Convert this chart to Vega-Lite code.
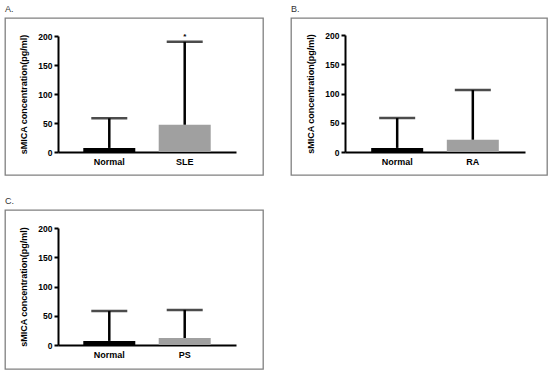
{
  "$schema": "https://vega.github.io/schema/vega-lite/v6.json",
  "padding": {"left": 4, "top": 4, "right": 4, "bottom": 4},
  "background": "white",
  "config": {
    "view": {"stroke": "#808080", "strokeWidth": 1.3},
    "font": "Liberation Sans",
    "title": {"fontSize": 9, "fontWeight": "normal", "color": "#333", "anchor": "start", "offset": 4, "font": "Liberation Sans"},
    "axis": {"grid": false, "domainColor": "#000", "domainWidth": 2, "tickColor": "#000", "tickWidth": 2, "labelColor": "#000", "labelFont": "Liberation Sans", "labelFontWeight": "bold", "labelOverlap": false, "titleFont": "Liberation Sans", "titleFontWeight": "bold", "titleColor": "#000"},
    "axisY": {"tickCount": 5, "labelOverlap": false, "tickSize": 4, "labelFontSize": 8.5, "labelPadding": 2, "titleFontSize": 9, "titlePadding": 9}
  },
  "vconcat": [
    {
      "hconcat": [
        {
          "title": "A.",
          "width": 258, "height": 157,
          "data": {"values": [{"group": "Normal", "mean": 7, "upper": 58, "sig": ""}, {"group": "SLE", "mean": 47, "upper": 190, "sig": "*"}]},
          "encoding": {"x": {"field": "group", "type": "nominal", "sort": null, "scale": {"range": [53, 231], "paddingInner": 0, "paddingOuter": 0.18}, "axis": {"title": null, "offset": -23, "ticks": false, "labelAngle": 0, "labelFontSize": 9, "labelPadding": 5}}},
          "layer": [
            {"mark": {"type": "bar", "width": 52}, "encoding": {"y": {"field": "mean", "type": "quantitative", "scale": {"domain": [0, 200], "range": [134, 18], "nice": false}, "axis": {"title": "sMICA concentration(pg/ml)", "offset": -53, "values": [0, 50, 100, 150, 200]}}, "color": {"condition": {"test": "datum.group === 'Normal'", "value": "#000000"}, "value": "#a0a0a0"}}},
            {"mark": {"type": "rule", "strokeWidth": 2.5, "color": "#000"}, "encoding": {"y": {"field": "mean", "type": "quantitative", "axis": {"title": "sMICA concentration(pg/ml)", "offset": -53, "values": [0, 50, 100, 150, 200]}}, "y2": {"field": "upper"}}},
            {"mark": {"type": "tick", "size": 36, "thickness": 2.5, "color": "#000"}, "encoding": {"y": {"field": "upper", "type": "quantitative", "axis": {"title": "sMICA concentration(pg/ml)", "offset": -53, "values": [0, 50, 100, 150, 200]}}}},
            {"mark": {"type": "text", "fontSize": 8, "fontWeight": "bold", "baseline": "alphabetic", "dy": -3, "color": "#000"}, "encoding": {"y": {"field": "upper", "type": "quantitative", "axis": {"title": "sMICA concentration(pg/ml)", "offset": -53, "values": [0, 50, 100, 150, 200]}}, "text": {"field": "sig"}}}
          ]
        },
        {
          "title": "B.",
          "width": 256, "height": 157,
          "data": {"values": [{"group": "Normal", "mean": 7, "upper": 58}, {"group": "RA", "mean": 21, "upper": 106}]},
          "encoding": {"x": {"field": "group", "type": "nominal", "sort": null, "scale": {"range": [54, 234], "paddingInner": 0, "paddingOuter": 0.19}, "axis": {"title": null, "offset": -23, "ticks": false, "labelAngle": 0, "labelFontSize": 9, "labelPadding": 5}}},
          "layer": [
            {"mark": {"type": "bar", "width": 52}, "encoding": {"y": {"field": "mean", "type": "quantitative", "scale": {"domain": [0, 200], "range": [134, 17], "nice": false}, "axis": {"title": "sMICA concentration(pg/ml)", "offset": -54, "values": [0, 50, 100, 150, 200]}}, "color": {"condition": {"test": "datum.group === 'Normal'", "value": "#000000"}, "value": "#a0a0a0"}}},
            {"mark": {"type": "rule", "strokeWidth": 2.5, "color": "#000"}, "encoding": {"y": {"field": "mean", "type": "quantitative", "axis": {"title": "sMICA concentration(pg/ml)", "offset": -54, "values": [0, 50, 100, 150, 200]}}, "y2": {"field": "upper"}}},
            {"mark": {"type": "tick", "size": 36, "thickness": 2.5, "color": "#000"}, "encoding": {"y": {"field": "upper", "type": "quantitative", "axis": {"title": "sMICA concentration(pg/ml)", "offset": -54, "values": [0, 50, 100, 150, 200]}}}}
          ]
        }
      ],
      "spacing": 26
    },
    {
      "title": "C.",
      "width": 258, "height": 159,
      "data": {"values": [{"group": "Normal", "mean": 7, "upper": 58}, {"group": "PS", "mean": 12, "upper": 60}]},
      "encoding": {"x": {"field": "group", "type": "nominal", "sort": null, "scale": {"range": [53, 231], "paddingInner": 0, "paddingOuter": 0.18}, "axis": {"title": null, "offset": -24, "ticks": false, "labelAngle": 0, "labelFontSize": 9, "labelPadding": 5}}},
      "layer": [
        {"mark": {"type": "bar", "width": 52}, "encoding": {"y": {"field": "mean", "type": "quantitative", "scale": {"domain": [0, 200], "range": [135, 18], "nice": false}, "axis": {"title": "sMICA concentration(pg/ml)", "offset": -53, "values": [0, 50, 100, 150, 200]}}, "color": {"condition": {"test": "datum.group === 'Normal'", "value": "#000000"}, "value": "#a0a0a0"}}},
        {"mark": {"type": "rule", "strokeWidth": 2.5, "color": "#000"}, "encoding": {"y": {"field": "mean", "type": "quantitative", "axis": {"title": "sMICA concentration(pg/ml)", "offset": -53, "values": [0, 50, 100, 150, 200]}}, "y2": {"field": "upper"}}},
        {"mark": {"type": "tick", "size": 36, "thickness": 2.5, "color": "#000"}, "encoding": {"y": {"field": "upper", "type": "quantitative", "axis": {"title": "sMICA concentration(pg/ml)", "offset": -53, "values": [0, 50, 100, 150, 200]}}}}
      ]
    }
  ],
  "spacing": 20
}
